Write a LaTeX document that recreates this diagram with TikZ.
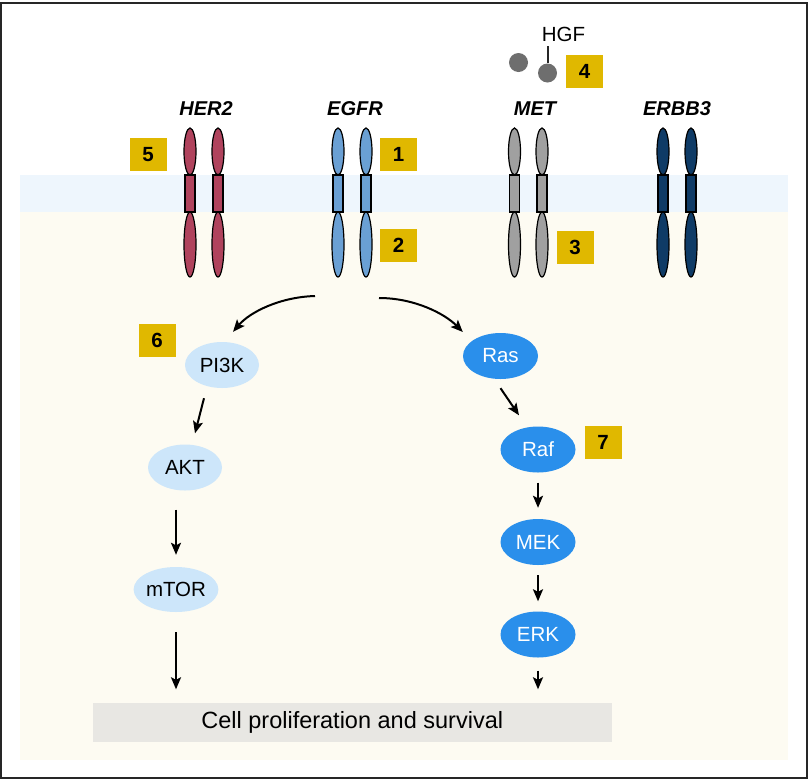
\documentclass[tikz,border=0pt]{standalone}
\usepackage{fontspec}
\setmainfont{Liberation Sans}
\usetikzlibrary{shapes.geometric,arrows.meta}
\definecolor{beige}{HTML}{FDFBF2}
\definecolor{band}{HTML}{EEF6FD}
\definecolor{gold}{HTML}{E0B800}
\definecolor{her}{HTML}{B0435D}
\definecolor{egfr}{HTML}{6AA0D4}
\definecolor{met}{HTML}{A0A0A0}
\definecolor{erbb}{HTML}{0F3B66}
\definecolor{lblue}{HTML}{CDE6FA}
\definecolor{dblue}{HTML}{2A8FEB}
\definecolor{hgfgrey}{HTML}{6E6E6E}
\definecolor{cellgrey}{HTML}{E8E7E3}
\newcommand{\rcpt}[2]{%
  \draw[rline, fill=#2] (#1,151.5) ellipse [x radius=6, y radius=23.5];
  \draw[rline, fill=#2] (#1,244.5) ellipse [x radius=6, y radius=32.5];
  \draw[rline, fill=#2] (#1-5,175) rectangle (#1+5,212);
}
\begin{document}
\begin{tikzpicture}[x=1pt,y=-1pt,
  rline/.style={line width=1.2pt, draw=black},
  badge/.style={fill=gold, minimum width=37pt, minimum height=33pt, inner sep=0pt,
    font=\fontsize{20.5}{24}\selectfont\bfseries},
  rlabel/.style={font=\fontsize{20}{23}\selectfont\bfseries\itshape, inner sep=0pt},
  lnode/.style={ellipse, fill=lblue, minimum width=74pt, minimum height=46pt, inner sep=0pt,
    font=\fontsize{20.5}{24}\selectfont},
  dnode/.style={ellipse, fill=dblue, text=white, minimum width=75pt, minimum height=46pt, inner sep=0pt,
    font=\fontsize{20.5}{24}\selectfont},
  arr/.style={line width=2pt, -{Stealth[length=12pt,width=10pt,inset=2.5pt]}},
  ball/.style={circle, fill=hgfgrey, minimum size=19pt, inner sep=0pt}
]
\useasboundingbox (0,0) rectangle (809,780);
\fill[beige] (20,211) rectangle (788,760);
\fill[band] (20,175) rectangle (788,212);
\draw[line width=2pt, draw=black!85] (1,3) rectangle (807,778);

% receptors
\rcpt{190}{her}\rcpt{218}{her}
\rcpt{338}{egfr}\rcpt{366}{egfr}
\rcpt{514.5}{met}\rcpt{542}{met}
\rcpt{663}{erbb}\rcpt{691}{erbb}

\node[rlabel] (lher) at (206,108.5) {HER2};
\node[rlabel] (legfr) at (355,108.5) {EGFR};
\node[rlabel] (lmet) at (535,108.5) {MET};
\node[rlabel] (lerbb) at (677,108.5) {ERBB3};

% HGF
\node[font=\fontsize{20.5}{24}\selectfont, inner sep=0pt] (hgf) at (563.5,34.5) {HGF};
\node[ball] (hgf1) at (547.5,73) {};
\node[ball] (hgf2) at (518.5,62.5) {};
\coordinate (stick) at (547.5,46);
\draw[line width=2pt, black!85] (hgf1.north) -- (stick);

% badges
\node[badge] (b1) at (398.5,154.5) {1};
\node[badge] (b2) at (398.5,245) {2};
\node[badge] (b3) at (575,247.5) {3};
\node[badge] (b4) at (584.5,71) {4};
\node[badge] (b5) at (148,154.5) {5};
\node[badge] (b6) at (157,340) {6};
\node[badge] (b7) at (603,442.5) {7};

% pathway nodes
\node[lnode] (pi3k) at (222,365) {PI3K};
\node[lnode] (akt) at (185,467.5) {AKT};
\node[lnode, minimum width=84pt, minimum height=45pt] (mtor) at (176,589.5) {mTOR};
\node[dnode] (ras) at (500.5,356) {Ras};
\node[dnode] (raf) at (538,449.5) {Raf};
\node[dnode] (mek) at (538,542) {MEK};
\node[dnode] (erk) at (538,634.5) {ERK};

\node[fill=cellgrey, minimum width=519.5pt, minimum height=39.5pt, inner sep=0pt,
  font=\fontsize{23.5}{28}\selectfont] (cell) at (352.25,722.25) {Cell proliferation and survival};

% connectors
\coordinate (srcL) at (315,296);
\coordinate (srcR) at (379,298);
\draw[arr] (srcL) .. controls (280,297) and (250,312) .. ([xshift=11pt,yshift=10pt]pi3k.north);
\draw[arr] (srcR) .. controls (415,298) and (445,314) .. ([yshift=24pt]ras.west);

\draw[arr] ([xshift=-18pt,yshift=-10pt]pi3k.south) -- ([xshift=10pt,yshift=11pt]akt.north);
\draw[arr] ([xshift=-9pt,yshift=-19pt]akt.south) -- ([yshift=12pt]mtor.north);
\draw[arr, shorten >=13pt] ([yshift=-20pt]mtor.south) -- (mtor.south |- cell.north);

\draw[arr] ([yshift=-9pt]ras.south) -- ([xshift=-19pt,yshift=11pt]raf.north);
\draw[arr] ([yshift=-10pt]raf.south) -- ([yshift=11pt]mek.north);
\draw[arr] ([yshift=-10pt]mek.south) -- ([yshift=10pt]erk.north);
\draw[arr, shorten >=13pt] ([yshift=-13pt]erk.south) -- (erk.south |- cell.north);
\end{tikzpicture}
\end{document}
